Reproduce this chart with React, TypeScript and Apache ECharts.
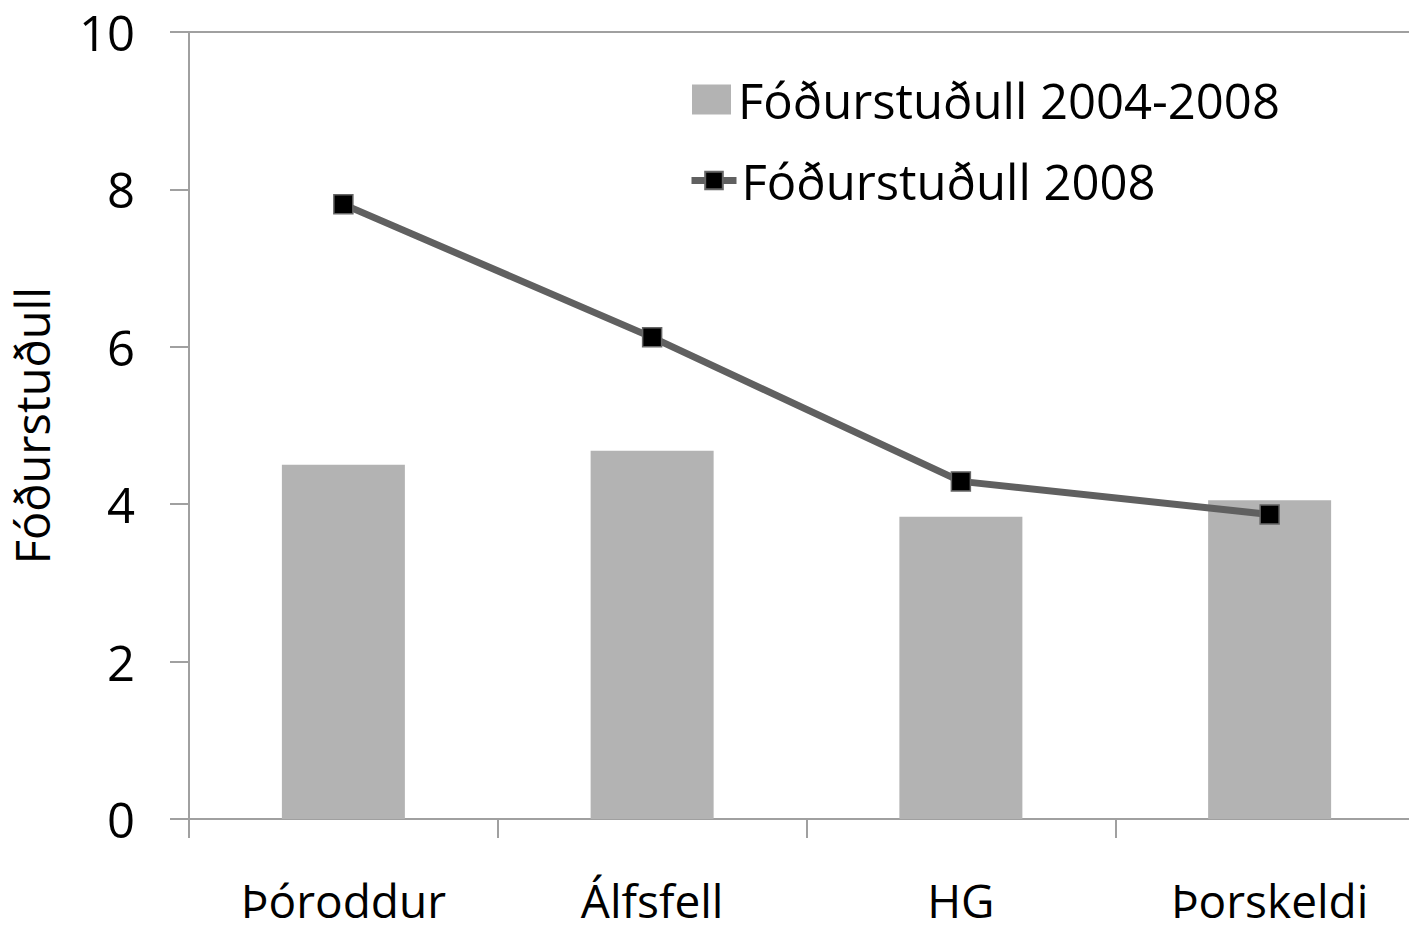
import React, { useEffect, useRef } from "react";
import * as echarts from "echarts";

const categories = ["Þóroddur", "Álfsfell", "HG", "Þorskeldi"];
const barValues = [4.5, 4.68, 3.84, 4.05];
const lineValues = [7.81, 6.12, 4.29, 3.87];
const barName = "Fóðurstuðull 2004-2008";
const lineName = "Fóðurstuðull 2008";
const yAxisName = "Fóðurstuðull";

const FONT = "Open Sans";
const AXIS_COLOR = "#a0a0a0";
const LINE_COLOR = "#606060";

export default function App() {
  const ref = useRef<HTMLDivElement>(null);
  useEffect(() => {
    if (!ref.current) return;
    const chart = echarts.init(ref.current, null, { renderer: "svg" });
    chart.setOption({
      animation: false,
      backgroundColor: "#ffffff",
      textStyle: { fontFamily: FONT },
      grid: {
        left: 189,
        top: 32,
        bottom: 113,
        right: -15,
        containLabel: false,
        outerBoundsMode: "none",
      },
      legend: [
        {
          orient: "vertical",
          left: 692,
          top: 75,
          padding: 0,
          itemWidth: 39,
          itemHeight: 30,
          textStyle: { fontFamily: FONT, fontSize: 49, color: "#000", padding: [0, 0, 0, 2] },
          data: [{ name: barName, icon: "rect" }],
        },
        {
          orient: "vertical",
          left: 688,
          top: 156,
          padding: 0,
          itemWidth: 45,
          itemHeight: 22,
          lineStyle: { width: 7, color: LINE_COLOR },
          textStyle: { fontFamily: FONT, fontSize: 49, color: "#000", padding: [0, 0, 0, 0] },
          data: [{ name: lineName }],
        },
      ],
      xAxis: [
        {
          type: "category",
          data: categories,
          position: "bottom",
          axisLine: { show: true, lineStyle: { color: AXIS_COLOR, width: 2 } },
          axisTick: { show: true, length: 19, inside: false, lineStyle: { color: AXIS_COLOR, width: 2 } },
          axisLabel: { fontFamily: FONT, fontSize: 46, lineHeight: 46, color: "#000", margin: 58 },
          splitLine: { show: false },
        },
        {
          type: "category",
          data: categories,
          position: "top",
          axisLine: { show: true, lineStyle: { color: AXIS_COLOR, width: 2 } },
          axisTick: { show: false },
          axisLabel: { show: false },
          splitLine: { show: false },
        },
      ],
      yAxis: {
        type: "value",
        min: 0,
        max: 10,
        interval: 2,
        name: yAxisName,
        nameLocation: "middle",
        nameGap: 134,
        nameTextStyle: { fontFamily: FONT, fontSize: 47, color: "#000" },
        axisLine: { show: true, lineStyle: { color: AXIS_COLOR, width: 2 } },
        axisTick: { show: true, length: 19, inside: false, lineStyle: { color: AXIS_COLOR, width: 2 } },
        axisLabel: { fontFamily: FONT, fontSize: 49, color: "#000", margin: 54 },
        splitLine: { show: false },
      },
      series: [
        {
          name: barName,
          type: "bar",
          data: barValues,
          barWidth: 123,
          itemStyle: { color: "#b3b3b3" },
        },
        {
          name: lineName,
          type: "line",
          data: lineValues,
          symbol: "rect",
          symbolSize: 19,
          lineStyle: { color: LINE_COLOR, width: 7 },
          itemStyle: { color: "#000000", borderColor: "#666", borderWidth: 1.5 },
        },
      ],
    });
    return () => chart.dispose();
  }, []);
  return (
    <div
      ref={ref}
      style={{ position: "absolute", left: 0, top: 0, width: 1409, height: 932 }}
    />
  );
}
